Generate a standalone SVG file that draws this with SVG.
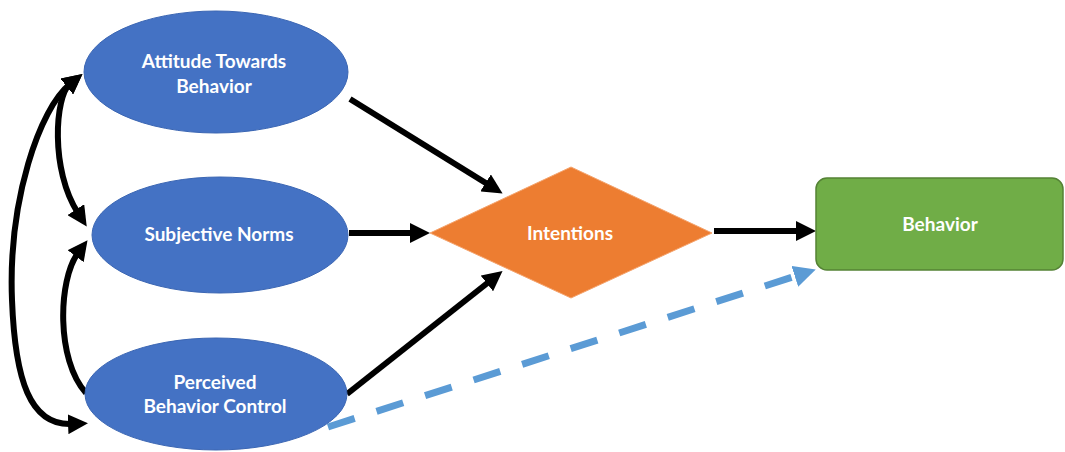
<svg xmlns="http://www.w3.org/2000/svg" width="1065" height="452" viewBox="0 0 1065 452">
  <style>
    .lbl { font-family: "Lato", "Liberation Sans", sans-serif; font-weight: 700; font-size: 19px; fill: #ffffff; text-anchor: middle; }
    .oval { fill: #4472C4; stroke: #3B66B3; stroke-width: 1; }
    .link { fill: none; stroke: #000000; stroke-width: 6; }
    .dash { fill: none; stroke: #5B9BD5; stroke-width: 7; stroke-dasharray: 28 23; }
  </style>
  <defs>
    <marker id="arrow" markerUnits="userSpaceOnUse" viewBox="0 0 20 20" markerWidth="20" markerHeight="20" refX="4" refY="10" orient="auto-start-reverse">
      <path d="M0,0 L20,10 L0,20 z" fill="#000000"/>
    </marker>
    <marker id="arrow-blue" markerUnits="userSpaceOnUse" viewBox="0 0 20 20" markerWidth="22" markerHeight="22" refX="4" refY="10" orient="auto">
      <path d="M0,0 L20,10 L0,20 z" fill="#5B9BD5"/>
    </marker>
  </defs>

  <rect width="1065" height="452" fill="#ffffff"/>

  <g id="connectors">
    <!-- correlations between the three antecedents -->
    <path class="link" d="M70,84 C40,108 8,200 12,300 C15,380 30,426 72,424" marker-start="url(#arrow)" marker-end="url(#arrow)"/>
    <path class="link" d="M70,84 C55,96 50,170 78,213" marker-start="url(#arrow)" marker-end="url(#arrow)"/>
    <path class="link" d="M78,253 C58,280 56,360 86,393" marker-start="url(#arrow)"/>
    <!-- paths into intentions -->
    <path class="link" d="M350,99 L489,185" marker-end="url(#arrow)"/>
    <path class="link" d="M349,233 L414,233" marker-end="url(#arrow)"/>
    <path class="link" d="M347,394 L490,281" marker-end="url(#arrow)"/>
    <!-- intentions to behavior -->
    <path class="link" d="M714,231 L800,231" marker-end="url(#arrow)"/>
    <!-- direct effect of perceived control -->
    <path class="dash" d="M328,427 L799,275" marker-end="url(#arrow-blue)"/>
  </g>

  <g id="attitude">
    <ellipse class="oval" cx="216" cy="72" rx="132" ry="61"/>
    <text class="lbl" x="214" y="68">Attitude Towards</text>
    <text class="lbl" x="214" y="93">Behavior</text>
  </g>

  <g id="subjective-norms">
    <ellipse class="oval" cx="220" cy="235" rx="128" ry="58"/>
    <text class="lbl" x="219" y="241">Subjective Norms</text>
  </g>

  <g id="perceived-control">
    <ellipse class="oval" cx="216" cy="394" rx="131" ry="56"/>
    <text class="lbl" x="215" y="389">Perceived</text>
    <text class="lbl" x="215" y="413">Behavior Control</text>
  </g>

  <g id="intentions">
    <polygon points="430,233 571,167 712,233 571,298" fill="#ED7D31" stroke="#F4A46E" stroke-width="1"/>
    <text class="lbl" x="570" y="240">Intentions</text>
  </g>

  <g id="behavior">
    <rect x="816" y="178" width="247" height="92" rx="11" ry="11" fill="#70AD47" stroke="#548235" stroke-width="1.5"/>
    <text class="lbl" x="940" y="231">Behavior</text>
  </g>
</svg>
